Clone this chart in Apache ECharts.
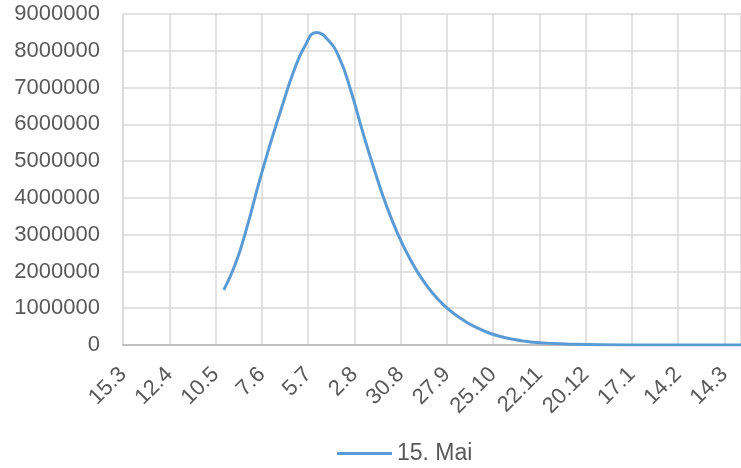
<!DOCTYPE html>
<html><head><meta charset="utf-8">
<script src="https://cdn.jsdelivr.net/npm/echarts@6/dist/echarts.min.js"></script>
<style>html,body{margin:0;padding:0;background:#fff}#c{width:741px;height:468px}</style>
</head><body><div id="c"></div>
<script>
// x tick labels, one every 28 days starting 15.3
const tickLabels = ['15.3','12.4','10.5','7.6','5.7','2.8','30.8','27.9','25.10','22.11','20.12','17.1','14.2','14.3'];
// day offsets from 15.3 and values
const dayOffsets = [61,68,75,82,89,96,103,110,117,124,131,138,145,152,159,166,173,180,187,194,201,208,215,222,229,236,243,250,260,270,290,320,374];
const values = [1500000,2200000,3200000,4370000,5450000,6450000,7400000,8120000,8500000,8300000,7800000,6900000,5800000,4780000,3840000,3050000,2400000,1860000,1430000,1090000,830000,620000,450000,320000,225000,155000,105000,70000,40000,22000,6000,1000,0];
const seriesName = '15. Mai';

const chart = echarts.init(document.getElementById('c'));
const font = 'Liberation Sans';
chart.setOption({
  animation: false,
  grid: { left: 123, top: 14, right: 0, bottom: 123 },
  legend: {
    data: [{ name: seriesName, icon: 'rect' }],
    left: 332, top: 437,
    itemWidth: 55, itemHeight: 3, itemGap: 5,
    textStyle: { fontFamily: font, fontSize: 23, color: '#595959' }
  },
  xAxis: {
    type: 'value', min: 0, max: 374, interval: 28,
    axisLine: { show: true, lineStyle: { color: '#bfbfbf', width: 2 } },
    axisTick: { show: false },
    splitLine: { show: true, lineStyle: { color: '#d9d9d9', width: 1.5 } },
    axisLabel: {
      rotate: 45, margin: 26, showMaxLabel: false,
      fontFamily: font, fontSize: 22, color: '#595959',
      formatter: v => (v % 28 === 0 && tickLabels[v / 28] !== undefined) ? tickLabels[v / 28] : ''
    }
  },
  yAxis: {
    type: 'value', min: 0, max: 9000000, interval: 1000000,
    axisLine: { show: true, lineStyle: { color: '#d9d9d9', width: 1.5 } },
    axisTick: { show: false },
    splitLine: { show: true, lineStyle: { color: '#d9d9d9', width: 1.5 } },
    axisLabel: { margin: 23, fontFamily: font, fontSize: 22, color: '#595959', formatter: v => String(v) }
  },
  series: [{
    name: seriesName, type: 'line', smooth: true, showSymbol: false, symbol: 'none',
    lineStyle: { color: '#5b9bd5', width: 3 },
    itemStyle: { color: '#5b9bd5' },
    data: dayOffsets.map((d, i) => [d, values[i]])
  }]
});
</script></body></html>
